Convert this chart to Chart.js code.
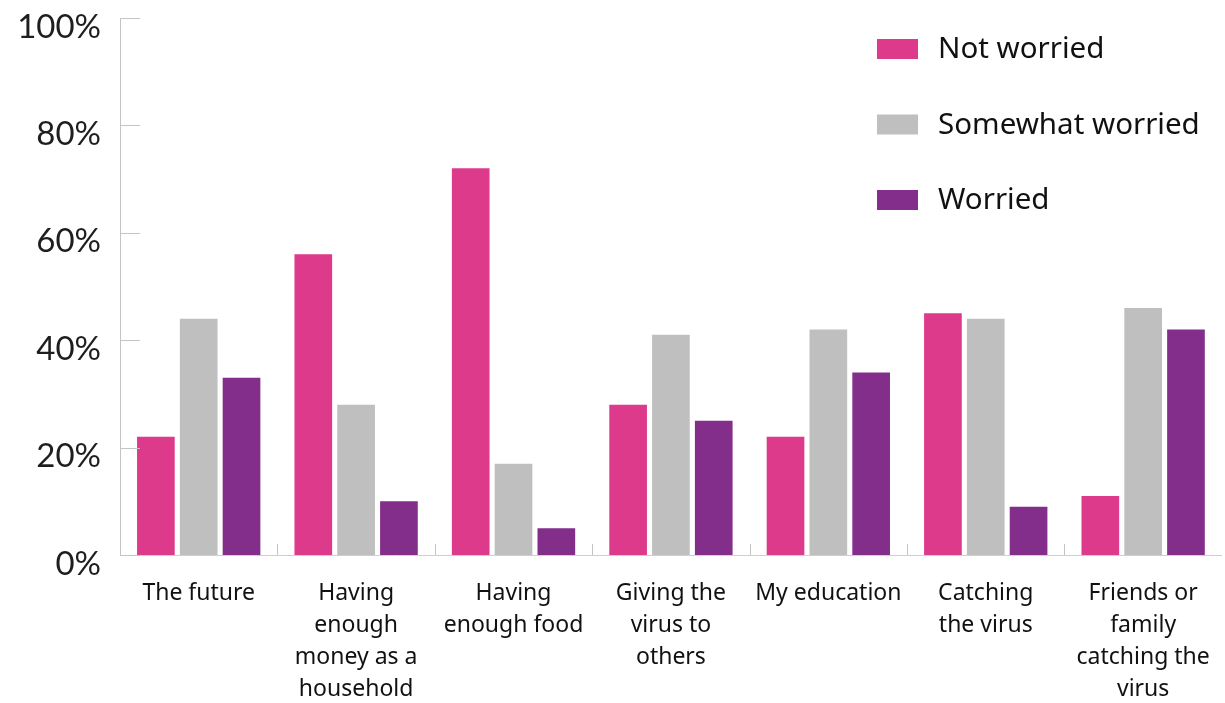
<!DOCTYPE html>
<html>
<head>
<meta charset="utf-8">
<script src="https://cdn.jsdelivr.net/npm/chart.js@4"></script>
<style>
  html, body { margin: 0; padding: 0; background: #fff; }
  #wrap { width: 1225px; height: 703px; }
</style>
</head>
<body>
<div id="wrap"><canvas id="worries"></canvas></div>
<script>
const categories = [
    'The future',
    ['Having', 'enough', 'money as a', 'household'],
    ['Having', 'enough food'],
    ['Giving the', 'virus to', 'others'],
    'My education',
    ['Catching', 'the virus'],
    ['Friends or', 'family', 'catching the', 'virus']
];
const notWorried = [22, 56, 72, 28, 22, 45, 11];
const somewhatWorried = [44, 28, 17, 41, 42, 44, 46];
const worried = [33, 10, 5, 25, 34, 9, 42];
const yTicks = [0, 20, 40, 60, 80, 100];

const PINK = '#de3a8c';
const GREY = '#bfbfbf';
const PURPLE = '#832e8a';

// short inward ticks on the value axis and upward separators between groups
const axisMarks = {
    id: 'axisMarks',
    afterDatasetsDraw(chart) {
        const { ctx, chartArea, scales: { x, y } } = chart;
        ctx.save();
        ctx.strokeStyle = '#c4c4c4';
        ctx.lineWidth = 1;
        ctx.beginPath();
        yTicks.forEach(v => {
            const py = Math.round(y.getPixelForValue(v)) + 0.5;
            ctx.moveTo(chartArea.left, py);
            ctx.lineTo(chartArea.left + 20, py);
        });
        for (let i = 1; i < categories.length; i++) {
            const px = Math.round((x.getPixelForTick(i - 1) + x.getPixelForTick(i)) / 2) + 0.5;
            ctx.moveTo(px, chartArea.bottom);
            ctx.lineTo(px, chartArea.bottom - 11);
        }
        ctx.stroke();
        ctx.restore();
    }
};

const sideLegend = {
    id: 'sideLegend',
    afterDraw(chart) {
        const { ctx } = chart;
        ctx.save();
        ctx.font = '29.5px "Noto Sans", sans-serif';
        ctx.textBaseline = 'middle';
        chart.data.datasets.forEach((ds, i) => {
            const cy = 49 + i * 75.5;
            ctx.fillStyle = ds.backgroundColor;
            ctx.fillRect(877, cy - 10, 41, 20);
            ctx.fillStyle = '#111';
            ctx.fillText(ds.label, 938, cy + 1);
        });
        ctx.restore();
    }
};

new Chart(document.getElementById('worries'), {
    type: 'bar',
    data: {
        labels: categories,
        datasets: [
            { label: 'Not worried', data: notWorried, backgroundColor: PINK },
            { label: 'Somewhat worried', data: somewhatWorried, backgroundColor: GREY },
            { label: 'Worried', data: worried, backgroundColor: PURPLE }
        ]
    },
    options: {
        responsive: true,
        maintainAspectRatio: false,
        animation: false,
        layout: { padding: { top: 18, right: 3, left: 0, bottom: 0 } },
        datasets: {
            bar: { categoryPercentage: 0.816, barPercentage: 0.88 }
        },
        plugins: {
            legend: { display: false },
            tooltip: { enabled: false }
        },
        scales: {
            x: {
                grid: { display: false },
                border: { display: true, color: '#cfcfcf', width: 1 },
                ticks: {
                    color: '#111',
                    font: { family: '"Noto Sans", sans-serif', size: 23, lineHeight: 1.38 },
                    padding: 15,
                    maxRotation: 0,
                    autoSkip: false
                },
                afterFit(scale) { scale.height = 148; }
            },
            y: {
                min: 0,
                max: 100,
                grid: { display: false },
                border: { display: true, color: '#c4c4c4', width: 1 },
                afterBuildTicks(scale) { scale.ticks = yTicks.map(v => ({ value: v })); },
                ticks: {
                    color: '#1e1e1e',
                    font: { family: 'Lato, sans-serif', size: 33 },
                    padding: 11,
                    labelOffset: 9,
                    callback: v => v + '%'
                },
                afterFit(scale) {
                    scale.width = 120;
                    scale.paddingTop = 0;
                    scale.paddingBottom = 0;
                }
            }
        }
    },
    plugins: [axisMarks, sideLegend]
});
</script>
</body>
</html>
